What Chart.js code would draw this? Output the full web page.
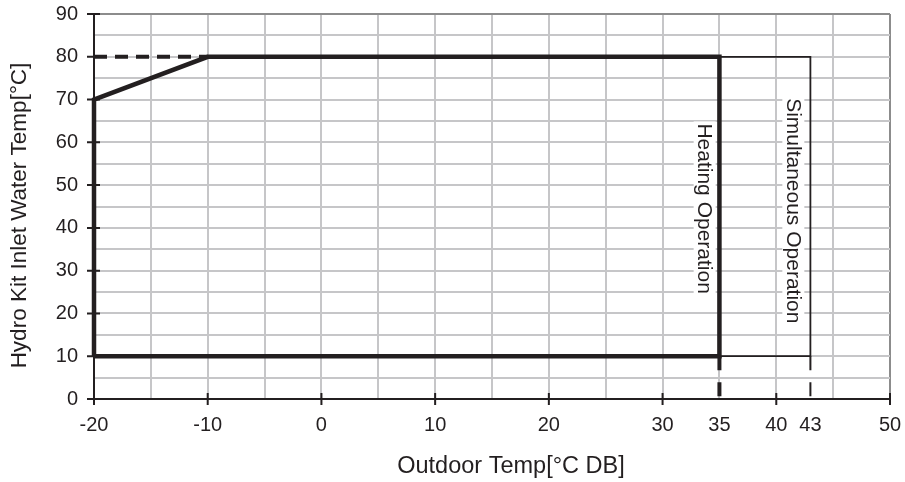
<!DOCTYPE html>
<html lang="en">
<head>
    <meta charset="UTF-8">
    <title>Operation Range</title>
    <script src="https://cdn.jsdelivr.net/npm/chart.js@4.4.0/dist/chart.umd.min.js"></script>
    <style>
        html, body {
            margin: 0;
            padding: 0;
            background: #fff;
        }
        .chart-box {
            position: relative;
            width: 905px;
            height: 482px;
        }
    </style>
</head>
<body>
    <div class="chart-box">
        <canvas id="rangeChart"></canvas>
    </div>

    <script>
        // Tick labels
        const xTickLabels = [-20, -10, 0, 10, 20, 30, 35, 40, 43, 50];
        const yTickLabels = [0, 10, 20, 30, 40, 50, 60, 70, 80, 90];

        // Heating operation boundary
        const heatingX = [-20, -20, -10, 35, 35, -20];
        const heatingY = [10, 70, 80, 80, 10, 10];

        // Dashed upper limit at the left
        const dashTopX = [-20, -10];
        const dashTopY = [80, 80];

        // Simultaneous operation extension
        const simulX = [35, 43, 43, 35];
        const simulY = [80, 80, 10, 10];

        // Dashed drops to the axis
        const drop35X = [35, 35];
        const drop35Y = [10, 0];
        const drop43X = [43, 43];
        const drop43Y = [10, 0];

        // Region labels
        const regionNames = ['Heating Operation', 'Simultaneous Operation'];
        const regionX = [33.7, 41.5];
        const regionY = [44.5, 44];

        const xTitle = 'Outdoor Temp[°C DB]';
        const yTitle = 'Hydro Kit Inlet Water Temp[°C]';

        const ink = '#231f20';
        const gridGray = '#c6c6c8';
        const borderGray = '#8c8c8c';
        const fontFamily = '"Liberation Sans", Arial, sans-serif';

        const toPoints = (xs, ys) => xs.map((x, i) => ({ x: x, y: ys[i] }));

        const regionLabels = {
            id: 'regionLabels',
            afterDatasetsDraw(chart) {
                const { ctx, scales } = chart;
                ctx.save();
                ctx.font = '21px ' + fontFamily;
                ctx.textAlign = 'center';
                ctx.textBaseline = 'middle';
                regionNames.forEach((name, i) => {
                    const px = scales.x.getPixelForValue(regionX[i]);
                    const py = scales.y.getPixelForValue(regionY[i]);
                    const w = ctx.measureText(name).width;
                    ctx.save();
                    ctx.translate(px, py);
                    ctx.rotate(Math.PI / 2);
                    ctx.fillStyle = '#fff';
                    ctx.fillRect(-w / 2 - 2, -11, w + 4, 22);
                    ctx.fillStyle = ink;
                    ctx.fillText(name, 0, 1);
                    ctx.restore();
                });
                ctx.restore();
            }
        };

        // axis titles sit a bit off-centre in the original
        const axisTitles = {
            id: 'axisTitles',
            afterDraw(chart) {
                const { ctx, chartArea } = chart;
                ctx.save();
                ctx.fillStyle = ink;
                ctx.textAlign = 'center';
                ctx.textBaseline = 'middle';
                ctx.font = '23.5px ' + fontFamily;
                ctx.fillText(xTitle, (chartArea.left + chartArea.right) / 2 + 19, 467);
                ctx.font = '22.5px ' + fontFamily;
                ctx.translate(20, (chartArea.top + chartArea.bottom) / 2 + 9);
                ctx.rotate(-Math.PI / 2);
                ctx.fillText(yTitle, 0, 0);
                ctx.restore();
            }
        };

        // small tick marks crossing the axes
        const crossTicks = {
            id: 'crossTicks',
            afterDraw(chart) {
                const { ctx, scales } = chart;
                const xAxisY = scales.y.getPixelForValue(0);
                const yAxisX = scales.x.getPixelForValue(-20);
                ctx.save();
                ctx.strokeStyle = ink;
                ctx.lineWidth = 2;
                ctx.beginPath();
                xTickLabels.forEach(v => {
                    if (v === 35 || v === 43) return;
                    const px = scales.x.getPixelForValue(v);
                    ctx.moveTo(px, xAxisY - 6);
                    ctx.lineTo(px, xAxisY + 6);
                });
                yTickLabels.forEach(v => {
                    const py = scales.y.getPixelForValue(v);
                    ctx.moveTo(yAxisX - 7, py);
                    ctx.lineTo(yAxisX + 6, py);
                });
                ctx.stroke();
                ctx.restore();
            }
        };

        const ctx = document.getElementById('rangeChart').getContext('2d');
        new Chart(ctx, {
            type: 'line',
            data: {
                datasets: [
                    {
                        data: toPoints(heatingX, heatingY),
                        borderColor: ink,
                        borderWidth: 4.5,
                        borderJoinStyle: 'miter'
                    },
                    {
                        data: toPoints(dashTopX, dashTopY),
                        borderColor: ink,
                        borderWidth: 4,
                        borderDash: [13, 8]
                    },
                    {
                        data: toPoints(simulX, simulY),
                        borderColor: ink,
                        borderWidth: 1.8,
                        borderJoinStyle: 'miter'
                    },
                    {
                        data: toPoints(drop35X, drop35Y),
                        borderColor: ink,
                        borderWidth: 4,
                        borderDash: [14, 12]
                    },
                    {
                        data: toPoints(drop43X, drop43Y),
                        borderColor: ink,
                        borderWidth: 2,
                        borderDash: [14, 12]
                    }
                ]
            },
            options: {
                responsive: true,
                maintainAspectRatio: false,
                animation: false,
                clip: false,
                layout: {
                    padding: { top: 14, right: 15, left: 0, bottom: 0 }
                },
                elements: {
                    point: { radius: 0 },
                    line: { tension: 0, fill: false }
                },
                plugins: {
                    legend: { display: false },
                    tooltip: { enabled: false }
                },
                scales: {
                    x: {
                        type: 'linear',
                        min: -20,
                        max: 50,
                        afterBuildTicks: (scale) => {
                            const vals = [];
                            for (let v = -20; v <= 50; v += 5) vals.push(v);
                            vals.push(43);
                            vals.sort((a, b) => a - b);
                            scale.ticks = vals.map(v => ({ value: v }));
                        },
                        afterFit: (scale) => {
                            scale.height = 83;
                            scale.paddingLeft = 0;
                            scale.paddingRight = 0;
                        },
                        ticks: {
                            autoSkip: false,
                            maxRotation: 0,
                            padding: 14,
                            color: ink,
                            font: { family: fontFamily, size: 20 },
                            callback: (v) => xTickLabels.includes(v) ? String(v) : ''
                        },
                        grid: {
                            drawTicks: false,
                            lineWidth: 2,
                            color: (c) => {
                                const v = c.tick && c.tick.value;
                                if (v === 43 || v === -20) return 'rgba(0,0,0,0)';
                                if (v === 50) return borderGray;
                                return gridGray;
                            }
                        },
                        border: { color: ink, width: 2 },
                        title: { display: false }
                    },
                    y: {
                        min: 0,
                        max: 90,
                        afterFit: (scale) => {
                            scale.width = 94;
                            scale.paddingTop = 0;
                            scale.paddingBottom = 0;
                        },
                        ticks: {
                            stepSize: 5,
                            autoSkip: false,
                            padding: 16,
                            color: ink,
                            font: { family: fontFamily, size: 20 },
                            callback: (v) => yTickLabels.includes(v) ? String(v) : ''
                        },
                        grid: {
                            drawTicks: false,
                            lineWidth: 2,
                            color: (c) => {
                                const v = c.tick && c.tick.value;
                                if (v === 0) return 'rgba(0,0,0,0)';
                                if (v === 90) return borderGray;
                                return gridGray;
                            }
                        },
                        border: { color: ink, width: 2 },
                        title: { display: false }
                    }
                }
            },
            plugins: [regionLabels, axisTitles, crossTicks]
        });
    </script>
</body>
</html>
